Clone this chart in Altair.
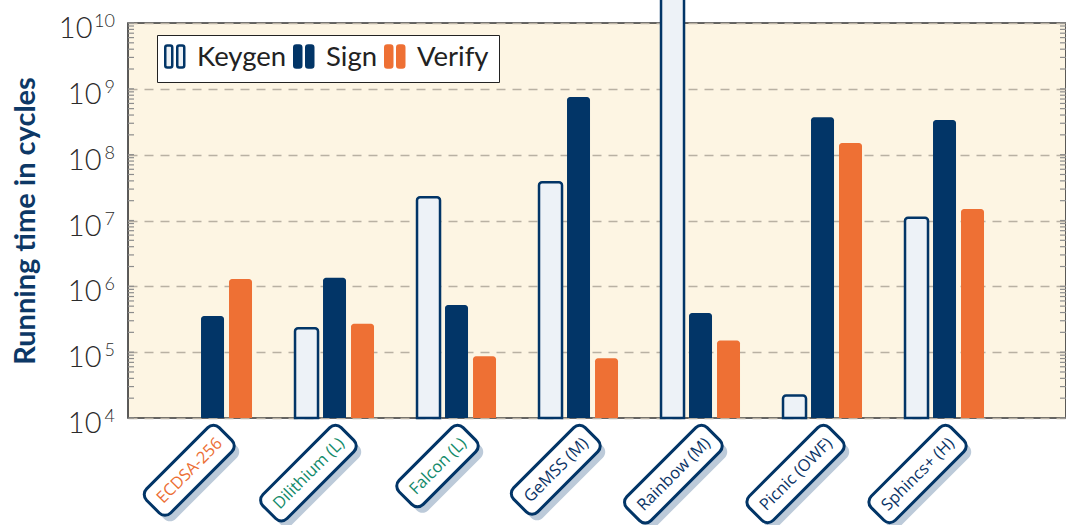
import math
import altair as alt
import pandas as pd

# ---- data -------------------------------------------------------------
schemes = ["ECDSA-256", "Dilithium (L)", "Falcon (L)", "GeMSS (M)",
           "Rainbow (M)", "Picnic (OWF)", "Sphincs+ (H)"]
series = ["Keygen", "Sign", "Verify"]
keygen = [None, 2.3e5, 2.25e7, 3.8e7, 1.0e11, 2.2e4, 1.1e7]
sign = [3.55e5, 1.35e6, 5.2e5, 7.5e8, 3.95e5, 3.7e8, 3.35e8]
verify = [1.29e6, 2.7e5, 8.7e4, 8.1e4, 1.5e5, 1.5e8, 1.5e7]
label_colors = ["#ec6f35", "#128a6a", "#128a6a", "#0b3466",
                "#0b3466", "#0b3466", "#0b3466"]
decades = [4, 5, 6, 7, 8, 9, 10]

# ---- style ------------------------------------------------------------
NAVY = "#023567"
KEY_FILL = "#edf2f7"
ORANGE = "#ee7034"
CREAM = "#fdf5e3"
SHADOW = "#bccad9"
W, H = 938, 395

rows = []
for i, name in enumerate(schemes):
    for ser, vals in zip(series, [keygen, sign, verify]):
        if vals[i] is not None:
            rows.append({"scheme": name, "series": ser, "value": vals[i]})
bars_df = pd.DataFrame(rows)

ticks_df = pd.DataFrame(
    {"value": [m * 10 ** k for k in range(4, 10) for m in range(1, 10)] + [10 ** 10]})
exp_df = pd.DataFrame({"value": [10 ** k for k in decades],
                       "e": [str(k) for k in decades]})
lab_df = pd.DataFrame({"scheme": schemes})

# rough Open Sans advance widths (em) for sizing the label boxes
ADV = {"A": .63, "C": .63, "D": .73, "E": .56, "F": .52, "G": .72, "H": .74,
       "L": .52, "M": .9, "O": .78, "P": .6, "R": .62, "S": .55, "W": .93,
       "a": .56, "b": .61, "c": .48, "e": .56, "h": .61, "i": .25, "l": .25,
       "m": .93, "n": .61, "o": .6, "p": .61, "s": .48, "t": .35, "u": .61,
       "w": .78, " ": .26, "(": .3, ")": .3, "-": .32, "+": .57}
LABEL_SIZE = 16.5
PAD = 9


def text_width(s):
    return LABEL_SIZE * sum(ADV.get(ch, 0.57) for ch in s)


def tilted_box(length, height=34.0, r=8.0, ox=13.0, oy=0.0):
    """Rounded box tilted by 45 degrees; its right end centred at (ox, oy)."""
    c = math.sqrt(0.5)

    def pt(u, v):
        return ox + (u + v) * c, oy + (v - u) * c

    h, L = height / 2, length
    seq = [("M", pt(-L + r, -h)), ("L", pt(-r, -h)), ("A", pt(0, -h + r)),
           ("L", pt(0, h - r)), ("A", pt(-r, h)), ("L", pt(-L + r, h)),
           ("A", pt(-L, h - r)), ("L", pt(-L, -h + r)), ("A", pt(-L + r, -h))]
    out = []
    for cmd, (x, y) in seq:
        if cmd == "A":
            out.append(f"A{r},{r} 0 0 1 {x:.2f},{y:.2f}")
        else:
            out.append(f"{cmd}{x:.2f},{y:.2f}")
    return " ".join(out) + " Z"


def rrect(x0, y0, x1, y1, r):
    return (f"M{x0 + r},{y0} L{x1 - r},{y0} A{r},{r} 0 0 1 {x1},{y0 + r} "
            f"L{x1},{y1 - r} A{r},{r} 0 0 1 {x1 - r},{y1} L{x0 + r},{y1} "
            f"A{r},{r} 0 0 1 {x0},{y1 - r} L{x0},{y0 + r} A{r},{r} 0 0 1 {x0 + r},{y0} Z")


box_paths = [tilted_box(text_width(s) + 2 * PAD) for s in schemes]
shadow_paths = [tilted_box(text_width(s) + 2 * PAD, ox=18.0, oy=6.0) for s in schemes]
legend_glyph = rrect(-15, -13, -8, 9, 2) + " " + rrect(-3, -13, 4, 9, 2)

# ---- scales -----------------------------------------------------------
x_scale = alt.Scale(domain=schemes, paddingInner=0, paddingOuter=0.3443, align=0.28)
y_scale = alt.Scale(type="log", domain=[1e4, 1e10], nice=False)
X = alt.X("scheme:N", scale=x_scale, axis=None)

legend = alt.Legend(
    orient="none", legendX=29, legendY=12, direction="horizontal", title=None,
    symbolType=legend_glyph, symbolSize=4, symbolStrokeWidth=2.5,
    labelFont="Lato", labelFontSize=27.5, labelColor="#222", labelOffset=3,
    columnPadding=2, padding=9.5, strokeColor="#222", fillColor="white",
)

y_axis = alt.Axis(
    values=[10 ** k for k in decades], labelExpr="'10'", ticks=False, domain=False,
    grid=True, gridDash=[9, 7], gridColor="#b9b1a3", gridWidth=1.5,
    labelFont="Lato", labelFontSize=29, labelFontWeight=300, labelColor="#2b2b2b",
    labelBaseline="alphabetic", labelOffset=14.5, labelOverlap=False,
    labelPadding={"condition": {"test": "datum.value > 5e9", "value": 36}, "value": 27},
    title="Running time in cycles", titleFont="Lato", titleFontSize=29,
    titleFontWeight="bold", titleColor="#0d3866", titleAngle=270,
    titleX=-94, titleY=H / 2, titleAlign="center", titleBaseline="alphabetic",
)
Y = alt.Y("value:Q", scale=y_scale, axis=y_axis)

# ---- layers -----------------------------------------------------------
bars = alt.Chart(bars_df).mark_bar(
    cornerRadiusTopLeft=3, cornerRadiusTopRight=3, clip=False
).encode(
    x=X,
    xOffset=alt.XOffset("series:N", scale=alt.Scale(domain=series, paddingInner=0.1786,
                                                    paddingOuter=0.768)),
    y=Y,
    y2=alt.datum(1e4),
    fill=alt.Fill("series:N", scale=alt.Scale(domain=series, range=[KEY_FILL, NAVY, ORANGE]),
                  legend=legend),
    stroke=alt.Stroke("series:N", scale=alt.Scale(domain=series, range=[NAVY, NAVY, ORANGE]),
                      legend=legend),
    strokeWidth=alt.condition("datum.series == 'Keygen'", alt.value(2.5), alt.value(0)),
)

left_ticks = alt.Chart(ticks_df).mark_rule(color="#8d8d8d", strokeWidth=1.2).encode(
    y=Y, x=alt.value(0), x2=alt.value(6))
right_ticks = alt.Chart(ticks_df).mark_rule(color="#8d8d8d", strokeWidth=1.2).encode(
    y=Y, x=alt.value(W - 6), x2=alt.value(W))

exponents = alt.Chart(exp_df).mark_text(
    align="right", baseline="alphabetic", dy=4, font="Lato", fontSize=18,
    fontWeight=300, color="#2b2b2b"
).encode(y=Y, x=alt.value(-13), text="e:N")

shadows = alt.Chart(lab_df).mark_point(
    filled=True, fill=SHADOW, size=4, opacity=1, strokeWidth=0
).encode(
    x=X, y=alt.value(411),
    shape=alt.Shape("scheme:N", scale=alt.Scale(domain=schemes, range=shadow_paths), legend=None),
)

boxes = alt.Chart(lab_df).mark_point(
    filled=True, fill="white", stroke=NAVY, strokeWidth=3, size=4, opacity=1
).encode(
    x=X, y=alt.value(411),
    shape=alt.Shape("scheme:N", scale=alt.Scale(domain=schemes, range=box_paths), legend=None),
)

labels = alt.Chart(lab_df).mark_text(
    angle=315, align="right", baseline="middle", dx=9.19 - PAD, dy=9.9,
    font="Open Sans", fontSize=LABEL_SIZE, fontWeight=500
).encode(
    x=X, y=alt.value(411), text="scheme:N",
    color=alt.Color("scheme:N", scale=alt.Scale(domain=schemes, range=label_colors), legend=None),
)

chart = alt.layer(
    left_ticks, right_ticks, bars, exponents, shadows, boxes, labels
).resolve_scale(
    shape="independent"
).properties(
    width=W, height=H, background="white",
    autosize=alt.AutoSizeParams(type="none"),
    padding={"left": 128, "top": 23, "right": 0, "bottom": 107},
).configure_view(
    fill=CREAM, stroke="#333", strokeWidth=1.6
)

chart.save("out.html", embed_options={"renderer": "svg", "actions": False})
